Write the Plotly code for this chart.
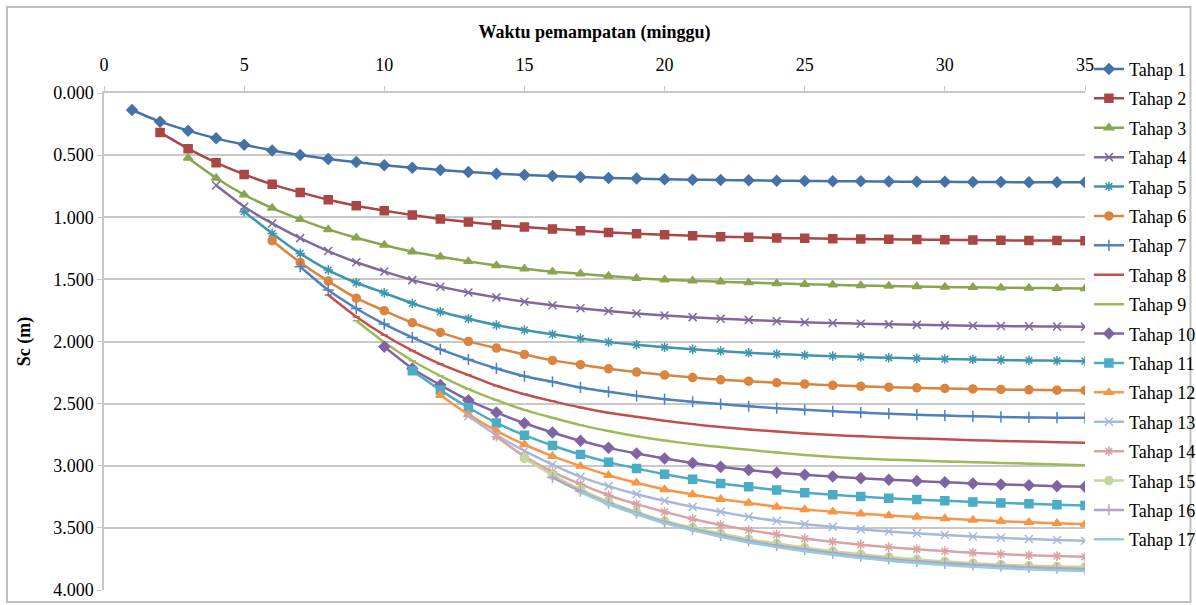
import plotly.graph_objects as go

# Settlement Sc (m) per week for each loading stage; stage k starts at week k
tahap_1 = [0.137, 0.231, 0.303, 0.365, 0.416, 0.462, 0.499, 0.531, 0.556, 0.582,
           0.601, 0.620, 0.636, 0.649, 0.660, 0.668, 0.676, 0.684, 0.689, 0.695, 0.698, 0.700,
           0.703, 0.706, 0.708, 0.710, 0.711, 0.713, 0.714, 0.715, 0.716, 0.717, 0.718, 0.718, 0.719]
tahap_2 = [0.317, 0.448, 0.561, 0.655, 0.735, 0.800, 0.859, 0.907, 0.947,
           0.982, 1.014, 1.039, 1.060, 1.079, 1.095, 1.108, 1.122, 1.133, 1.141, 1.149, 1.157,
           1.161, 1.166, 1.170, 1.173, 1.176, 1.178, 1.180, 1.182, 1.184, 1.186, 1.187, 1.188, 1.189]
tahap_3 = [0.523, 0.684, 0.819, 0.926, 1.017, 1.098, 1.165, 1.224,
           1.278, 1.318, 1.355, 1.388, 1.415, 1.439, 1.455, 1.473, 1.490, 1.503, 1.511, 1.519,
           1.526, 1.533, 1.539, 1.544, 1.549, 1.553, 1.557, 1.561, 1.564, 1.567, 1.569, 1.571, 1.573]
tahap_4 = [0.743, 0.915, 1.050, 1.168, 1.272, 1.362, 1.436,
           1.506, 1.559, 1.605, 1.645, 1.680, 1.709, 1.733, 1.755, 1.774, 1.790, 1.804, 1.817,
           1.826, 1.836, 1.845, 1.851, 1.857, 1.862, 1.866, 1.870, 1.873, 1.876, 1.878, 1.880, 1.882]
tahap_5 = [0.955, 1.130, 1.291, 1.425, 1.527, 1.609,
           1.693, 1.761, 1.817, 1.868, 1.908, 1.942, 1.975, 2.005, 2.027, 2.046, 2.063, 2.077,
           2.091, 2.101, 2.110, 2.118, 2.125, 2.131, 2.136, 2.141, 2.145, 2.149, 2.152, 2.155, 2.158]
tahap_6 = [1.189, 1.364, 1.514, 1.651, 1.752,
           1.849, 1.927, 1.999, 2.053, 2.104, 2.152, 2.187, 2.220, 2.246, 2.270, 2.290, 2.308,
           2.319, 2.332, 2.343, 2.353, 2.361, 2.368, 2.373, 2.378, 2.382, 2.386, 2.389, 2.392, 2.394]
tahap_7 = [1.398, 1.586, 1.734, 1.860,
           1.967, 2.064, 2.144, 2.217, 2.279, 2.324, 2.370, 2.405, 2.437, 2.464, 2.485, 2.504,
           2.521, 2.537, 2.550, 2.562, 2.572, 2.581, 2.589, 2.596, 2.602, 2.607, 2.611, 2.613, 2.614]
tahap_8 = [1.626, 1.801, 1.948,
           2.074, 2.182, 2.270, 2.356, 2.424, 2.480, 2.531, 2.574, 2.606, 2.638, 2.665, 2.689,
           2.708, 2.724, 2.740, 2.752, 2.763, 2.772, 2.780, 2.787, 2.794, 2.800, 2.805, 2.810, 2.815]
tahap_9 = [1.833, 2.006,
           2.155, 2.276, 2.383, 2.472, 2.550, 2.614, 2.673, 2.721, 2.762, 2.797, 2.826, 2.850,
           2.872, 2.893, 2.913, 2.930, 2.942, 2.951, 2.958, 2.965, 2.971, 2.977, 2.983, 2.989, 2.995]
tahap_10 = [2.042,
            2.217, 2.351, 2.472, 2.571, 2.658, 2.732, 2.799, 2.856, 2.901, 2.942, 2.977, 3.009,
            3.035, 3.057, 3.072, 3.087, 3.100, 3.112, 3.123, 3.133, 3.142, 3.150, 3.157, 3.164, 3.170]
tahap_11 = [2.236, 2.391, 2.531, 2.655, 2.754, 2.837, 2.910, 2.971, 3.022, 3.068, 3.108, 3.143,
            3.170, 3.196, 3.218, 3.234, 3.248, 3.261, 3.272, 3.282, 3.291, 3.299, 3.306, 3.313, 3.319]
tahap_12 = [2.432, 2.587, 2.719, 2.829, 2.923, 3.003, 3.076, 3.137, 3.191, 3.231, 3.269,
            3.299, 3.331, 3.352, 3.370, 3.386, 3.400, 3.413, 3.425, 3.436, 3.446, 3.455, 3.463, 3.470]
tahap_13 = [2.601, 2.752, 2.880, 2.990, 3.089, 3.164, 3.229, 3.282, 3.331, 3.371,
            3.411, 3.444, 3.470, 3.492, 3.512, 3.529, 3.544, 3.558, 3.570, 3.580, 3.589, 3.597, 3.604]
tahap_14 = [2.767, 2.925, 3.049, 3.148, 3.237, 3.309, 3.371, 3.428, 3.476,
            3.518, 3.553, 3.586, 3.612, 3.635, 3.655, 3.672, 3.687, 3.700, 3.711, 3.720, 3.727, 3.733]
tahap_15 = [2.941, 3.076, 3.191, 3.291, 3.371, 3.444, 3.497, 3.545,
            3.591, 3.626, 3.658, 3.688, 3.713, 3.735, 3.754, 3.770, 3.784, 3.796, 3.805, 3.810, 3.814]
tahap_16 = [3.095, 3.205, 3.303, 3.382, 3.454, 3.510, 3.560, 3.605, 3.642, 3.674,
            3.703, 3.728, 3.750, 3.769, 3.785, 3.798, 3.809, 3.818, 3.825, 3.830]
tahap_17 = [3.215, 3.310, 3.390, 3.462, 3.520, 3.572, 3.617, 3.655, 3.688, 3.717,
            3.742, 3.764, 3.783, 3.799, 3.813, 3.825, 3.834, 3.841, 3.847]

series = [tahap_1, tahap_2, tahap_3, tahap_4, tahap_5, tahap_6, tahap_7, tahap_8, tahap_9,
          tahap_10, tahap_11, tahap_12, tahap_13, tahap_14, tahap_15, tahap_16, tahap_17]
names = [f"Tahap {i}" for i in range(1, 18)]
last_week = 35

# Line colour, marker symbol, marker size per stage
styles = [
    ("#4572A7", "diamond", 8),
    ("#AA4643", "square", 8),
    ("#89A54E", "triangle-up", 8),
    ("#80699B", "x-thin", 8),
    ("#3D96AE", "asterisk", 8),
    ("#DB843D", "circle", 8),
    ("#4F81BD", "cross-thin", 8),
    ("#C0504D", "line-ew", 5),
    ("#9BBB59", "line-ew", 5),
    ("#8064A2", "diamond", 8),
    ("#4BACC6", "square", 8),
    ("#F79646", "triangle-up", 8),
    ("#A6B9DA", "x-thin", 8),
    ("#D9A3A2", "asterisk", 8),
    ("#C3D69B", "circle", 8),
    ("#B3A2C7", "cross-thin", 8),
    ("#93CDDD", None, 6),
]

serif = "Liberation Serif"

fig = go.Figure()
for idx, (vals, name, (color, symbol, size)) in enumerate(zip(series, names, styles)):
    start = idx + 1
    weeks = list(range(start, last_week + 1))
    marker = dict(color=color, size=size, symbol=symbol or "circle",
                  line=dict(color=color, width=1.5))
    fig.add_trace(go.Scatter(
        x=weeks, y=vals, name=name, legendgroup=name,
        mode="lines+markers" if symbol else "lines",
        line=dict(color=color, width=2.5, shape="spline", smoothing=0.6),
        marker=marker,
    ))

grid = "#C8C8C8"
fig.update_layout(
    width=1196, height=605,
    paper_bgcolor="white", plot_bgcolor="white",
    margin=dict(l=104, r=111, t=93, b=15, autoexpand=False),
    font=dict(family=serif, color="black", size=18),
    showlegend=True,
    legend=dict(x=1.004, y=1.085, xanchor="left", yanchor="top",
                font=dict(family=serif, size=18), tracegroupgap=3,
                itemwidth=30, maxheight=600, bgcolor="rgba(0,0,0,0)"),
    shapes=[dict(type="rect", xref="paper", yref="paper",
                 x0=-0.0989, x1=1.1075, y0=-0.024, y1=1.1730,
                 line=dict(color="#BFBFBF", width=2), layer="below")],
)
fig.update_xaxes(
    range=[0, 35], dtick=5, side="top",
    showgrid=False, zeroline=False,
    showline=True, linecolor=grid, linewidth=1.5,
    ticks="outside", ticklen=5, tickcolor=grid, ticklabelstandoff=8,
    tickfont=dict(family=serif, size=18),
    title=dict(text="<b>Waktu pemampatan (minggu)</b>", standoff=12,
               font=dict(family=serif, size=18)),
)
fig.update_yaxes(
    range=[4, 0], dtick=0.5, tickformat=".3f",
    showgrid=True, gridcolor=grid, gridwidth=1.5, zeroline=False,
    showline=True, linecolor=grid, linewidth=1.5,
    ticks="outside", ticklen=5, tickcolor=grid,
    tickfont=dict(family=serif, size=18),
    title=dict(text="<b>Sc (m)</b>", standoff=18,
               font=dict(family=serif, size=18)),
)

fig.write_html("out.html")
